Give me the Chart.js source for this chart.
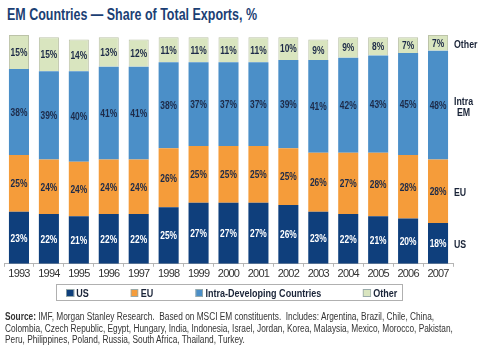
<!DOCTYPE html>
<html>
<head>
<meta charset="utf-8">
<script src="https://cdn.jsdelivr.net/npm/chart.js@4"></script>
<style>
  html, body { margin:0; padding:0; background:#fff; }
  body { width:480px; height:357px; position:relative; overflow:hidden; font-family:"Liberation Sans",Arial,sans-serif; }
  #title { position:absolute; left:7px; top:5px; font-size:16.5px; font-weight:bold; color:#1b3f74; white-space:nowrap; transform-origin:0 0; }
  #wrap { position:absolute; left:0; top:0; width:480px; height:286px; }
  #legendBox { position:absolute; left:56px; top:284px; width:345px; height:15px; border:1px solid #b0b0b0; }
  #legend { position:absolute; left:66px; top:285px; height:15px; display:flex; align-items:center; gap:51px; font-size:11px; font-weight:bold; color:#1a2438; transform-origin:0 50%; transform:scaleX(0.82); white-space:nowrap; }
  #legend .it { display:flex; align-items:center; white-space:nowrap; }
  #legend .bx { width:7.5px; height:6px; border:1px solid #9aa; margin-right:3px; }
  #source { position:absolute; left:5px; top:311px; font-size:10px; line-height:11.5px; color:#333; white-space:nowrap; transform-origin:0 0; }
</style>
</head>
<body>
<div id="title">EM Countries — Share of Total Exports, %</div>
<div id="wrap"><canvas id="c" width="480" height="286"></canvas></div>
<div id="legendBox"></div>
<div id="legend"></div>
<div id="source"><b>Source:</b> IMF, Morgan Stanley Research.&nbsp; Based on MSCI EM constituents.&nbsp; Includes: Argentina, Brazil, Chile, China,<br>Colombia, Czech Republic, Egypt, Hungary, India, Indonesia, Israel, Jordan, Korea, Malaysia, Mexico, Morocco, Pakistan,<br>Peru, Philippines, Poland, Russia, South Africa, Thailand, Turkey.</div>
<script>
const years = ["1993","1994","1995","1996","1997","1998","1999","2000","2001","2002","2003","2004","2005","2006","2007"];
const us    = [23,22,21,22,22,25,27,27,27,26,23,22,21,20,18];
const eu    = [25,24,24,24,24,26,25,25,25,25,26,27,28,28,28];
const intra = [38,39,40,41,41,38,37,37,37,39,41,42,43,45,48];
const other = [15,15,14,13,12,11,11,11,11,10,9,9,8,7,7];
const legendNames = ["US","EU","Intra-Developing Countries","Other"];
const sideNames = [["US"],["EU"],["Intra","EM"],["Other"]];
const colors = ["#0f3f7c","#f59c3a","#4b8fc8","#d9e5bf"];
const labelColors = ["#ffffff","#1d2a48","#1d2a48","#1d2a48"];
const seriesValues = [us, eu, intra, other];

const FONT = '"Liberation Sans",Arial,sans-serif';
const SQ = 0.8; // horizontal condensing for canvas text

function condensedText(ctx, text, x, y, align) {
  ctx.save();
  ctx.translate(x, y);
  ctx.scale(SQ, 1);
  ctx.textAlign = align;
  ctx.fillText(text, 0, 0);
  ctx.restore();
}

const condense = {
  id:'condense',
  beforeDraw(chart){ chart.ctx.letterSpacing = '-0.8px'; },
  afterDraw(chart){ chart.ctx.letterSpacing = '0px'; }
};

const valueLabels = {
  id:'valueLabels',
  afterDatasetsDraw(chart){
    const ctx = chart.ctx;
    ctx.save();
    ctx.letterSpacing = '0px';
    ctx.font = 'bold 10.5px ' + FONT;
    ctx.textBaseline = 'middle';
    chart.data.datasets.forEach((ds, di) => {
      const meta = chart.getDatasetMeta(di);
      ctx.fillStyle = labelColors[di];
      meta.data.forEach((el, i) => {
        const cy = (el.y + el.base) / 2;
        condensedText(ctx, ds.data[i] + '%', el.x, cy + 1, 'center');
      });
    });
    const area = chart.chartArea;
    ctx.font = 'bold 11px ' + FONT;
    ctx.fillStyle = '#1a2438';
    chart.data.datasets.forEach((ds, di) => {
      const meta = chart.getDatasetMeta(di);
      const el = meta.data[meta.data.length - 1];
      const cy = (el.y + el.base) / 2;
      const lines = sideNames[di];
      const w = Math.max(...lines.map(l => ctx.measureText(l).width)) * SQ;
      const x0 = area.right + 1;
      const lh = 11;
      lines.forEach((l, k) => {
        const y = cy + (k - (lines.length - 1) / 2) * lh + 2;
        if (lines.length > 1) condensedText(ctx, l, x0 + w / 2, y, 'center');
        else condensedText(ctx, l, x0, y, 'left');
      });
    });
    ctx.restore();
  }
};

const datasets = seriesValues.map((vals, i) => ({
  label: legendNames[i],
  data: vals,
  backgroundColor: colors[i],
  borderColor: i === 3 ? '#bcc3a8' : colors[i],
  borderWidth: i === 3 ? 1 : 0,
  categoryPercentage: 1.0,
  barPercentage: 0.67
}));

new Chart(document.getElementById('c'), {
  type: 'bar',
  data: { labels: years, datasets },
  options: {
    responsive: false,
    animation: false,
    devicePixelRatio: 1,
    layout: { padding: { top: 35, left: 4, right: 27, bottom: 4 } },
    plugins: { legend: { display: false }, title: { display: false }, tooltip: { enabled: false } },
    scales: {
      x: {
        stacked: true,
        offset: true,
        grid: { offset: true, drawOnChartArea: false, drawTicks: true, tickLength: 3, color: '#b5b5b5' },
        border: { display: true, color: '#b5b5b5', width: 1 },
        ticks: { color: '#333', font: { family: FONT, size: 11 }, padding: 1, maxRotation: 0, autoSkip: false }
      },
      y: { stacked: true, display: false, min: 0, max: 101 }
    }
  },
  plugins: [condense, valueLabels]
});

const lg = document.getElementById('legend');
legendNames.forEach((n, i) => {
  const it = document.createElement('div');
  it.className = 'it';
  const b = document.createElement('span');
  b.className = 'bx';
  b.style.background = colors[i];
  const t = document.createElement('span');
  t.textContent = n;
  it.appendChild(b); it.appendChild(t);
  lg.appendChild(it);
});

function fitWidth(id, target) {
  const el = document.getElementById(id);
  const w = el.getBoundingClientRect().width;
  el.style.transform = 'scaleX(' + (target / w).toFixed(3) + ')';
}
fitWidth('title', 250);
fitWidth('source', 448);
</script>
</body>
</html>
